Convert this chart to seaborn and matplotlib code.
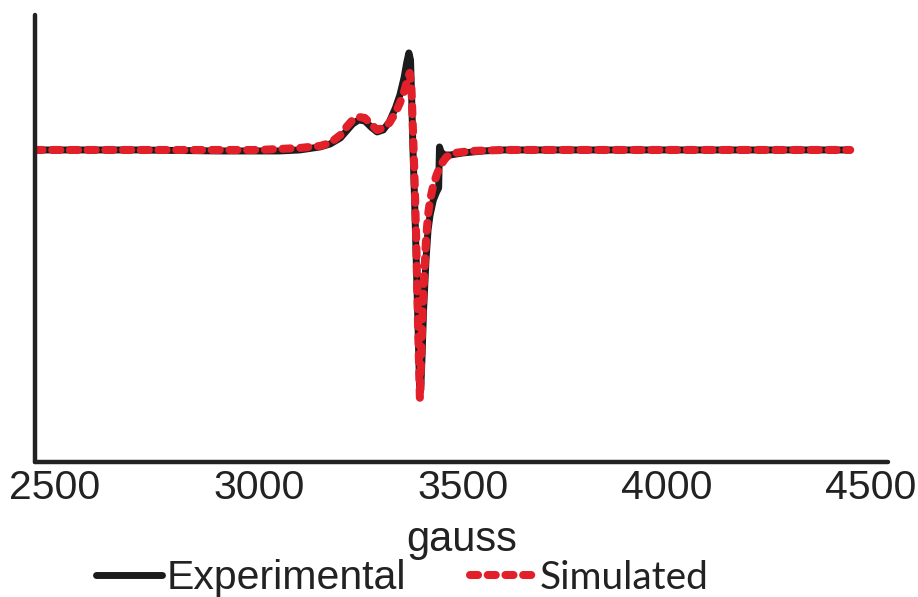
import matplotlib
matplotlib.use("Agg")
import matplotlib.pyplot as plt
import seaborn as sns
import pandas as pd

# ---- data (arbitrary intensity units, baseline 0) ----
exp_field = [2450, 2700, 2900, 3050, 3100, 3150, 3175, 3200, 3215, 3230, 3245, 3260,
             3275, 3290, 3305, 3320, 3335, 3346, 3356, 3363, 3368, 3372, 3375, 3378,
             3382, 3386, 3390, 3394, 3397, 3400, 3404, 3410, 3415, 3420, 3428, 3436,
             3441, 3443, 3447, 3455, 3470, 3500, 3550, 3600, 3800, 4000, 4200, 4450]
exp_signal = [0.0, 0.0, -0.004, -0.004, 0.0, 0.012, 0.024, 0.048, 0.076, 0.104, 0.120, 0.116,
              0.092, 0.072, 0.080, 0.112, 0.168, 0.220, 0.288, 0.352, 0.388, 0.360, 0.200, 0.0,
              -0.200, -0.440, -0.680, -0.940, -0.960, -0.840, -0.640, -0.440, -0.320, -0.260, -0.200, -0.168,
              -0.152, 0.012, -0.008, -0.020, -0.020, -0.012, -0.004, 0.0, 0.0, 0.0, 0.0, 0.0]

sim_field = [2450, 2600, 2800, 3000, 3100, 3150, 3175, 3200, 3215, 3230, 3245, 3260,
             3275, 3290, 3305, 3320, 3335, 3346, 3356, 3363, 3370, 3374, 3378, 3382,
             3386, 3389, 3392, 3395, 3398, 3401, 3405, 3410, 3415, 3420, 3428, 3436,
             3446, 3460, 3480, 3520, 3600, 3800, 4000, 4200, 4450]
sim_signal = [0.0, 0.0, 0.0, 0.0, 0.008, 0.016, 0.028, 0.060, 0.092, 0.120, 0.132, 0.128,
              0.104, 0.080, 0.088, 0.108, 0.148, 0.188, 0.232, 0.272, 0.308, 0.260, 0.080, -0.120,
              -0.360, -0.600, -0.800, -0.995, -0.840, -0.680, -0.520, -0.360, -0.260, -0.200, -0.140, -0.100,
              -0.060, -0.028, -0.012, -0.004, 0.0, 0.0, 0.0, 0.0, 0.0]

x_ticks = [2500, 3000, 3500, 4000, 4500]
series_labels = ["Experimental", "Simulated"]

# ---- style ----
sns.set_style("white")
plt.rcParams["font.family"] = ["Liberation Sans", "DejaVu Sans"]

BLACK = "#1c1c1c"
RED = "#E2202A"

fig = plt.figure(figsize=(9.18, 5.97), dpi=100)
ax = fig.add_axes([0.038, 0.226, 0.929, 0.749])

exp_df = pd.DataFrame({"field": exp_field, "signal": exp_signal})
sim_df = pd.DataFrame({"field": sim_field, "signal": sim_signal})

sns.lineplot(data=exp_df, x="field", y="signal", ax=ax, color=BLACK, linewidth=5.0,
             solid_capstyle="round", solid_joinstyle="round", label=series_labels[0])
sns.lineplot(data=sim_df, x="field", y="signal", ax=ax, color=RED, linewidth=5.8,
             label=series_labels[1])
red_line = ax.lines[-1]
red_line.set_dashes((1.0, 1.2))
red_line.set_dash_capstyle("round")
red_line.set_dash_joinstyle("round")

ax.set_xlim(2451, 4542)
ax.set_ylim(-1.248, 0.54)
ax.set_xticks(x_ticks)
ax.set_xticklabels([str(t) for t in x_ticks])
ax.set_yticks([])
ax.tick_params(axis="x", length=0, pad=5, labelsize=29.5, colors="#222222")

for side in ["top", "right"]:
    ax.spines[side].set_visible(False)
for side in ["left", "bottom"]:
    ax.spines[side].set_color("#222222")
    ax.spines[side].set_linewidth(3.2)
    ax.spines[side].set_capstyle("round")

ax.set_xlabel("gauss", fontsize=30, labelpad=9, color="#222222")
ax.set_ylabel("")

leg = ax.legend(loc="center", bbox_to_anchor=(0.4385, 0.031), bbox_transform=fig.transFigure,
                ncol=2, frameon=False, fontsize=29.5, handlelength=1.6, handletextpad=0.12,
                columnspacing=1.55, borderpad=0, borderaxespad=0)
texts = leg.get_texts()
texts[0].set_color("#222222")
texts[1].set_fontfamily(["Lato", "DejaVu Sans"])
texts[1].set_fontsize(28)
texts[1].set_color("#222222")

fig.savefig("out.png", dpi=100)
